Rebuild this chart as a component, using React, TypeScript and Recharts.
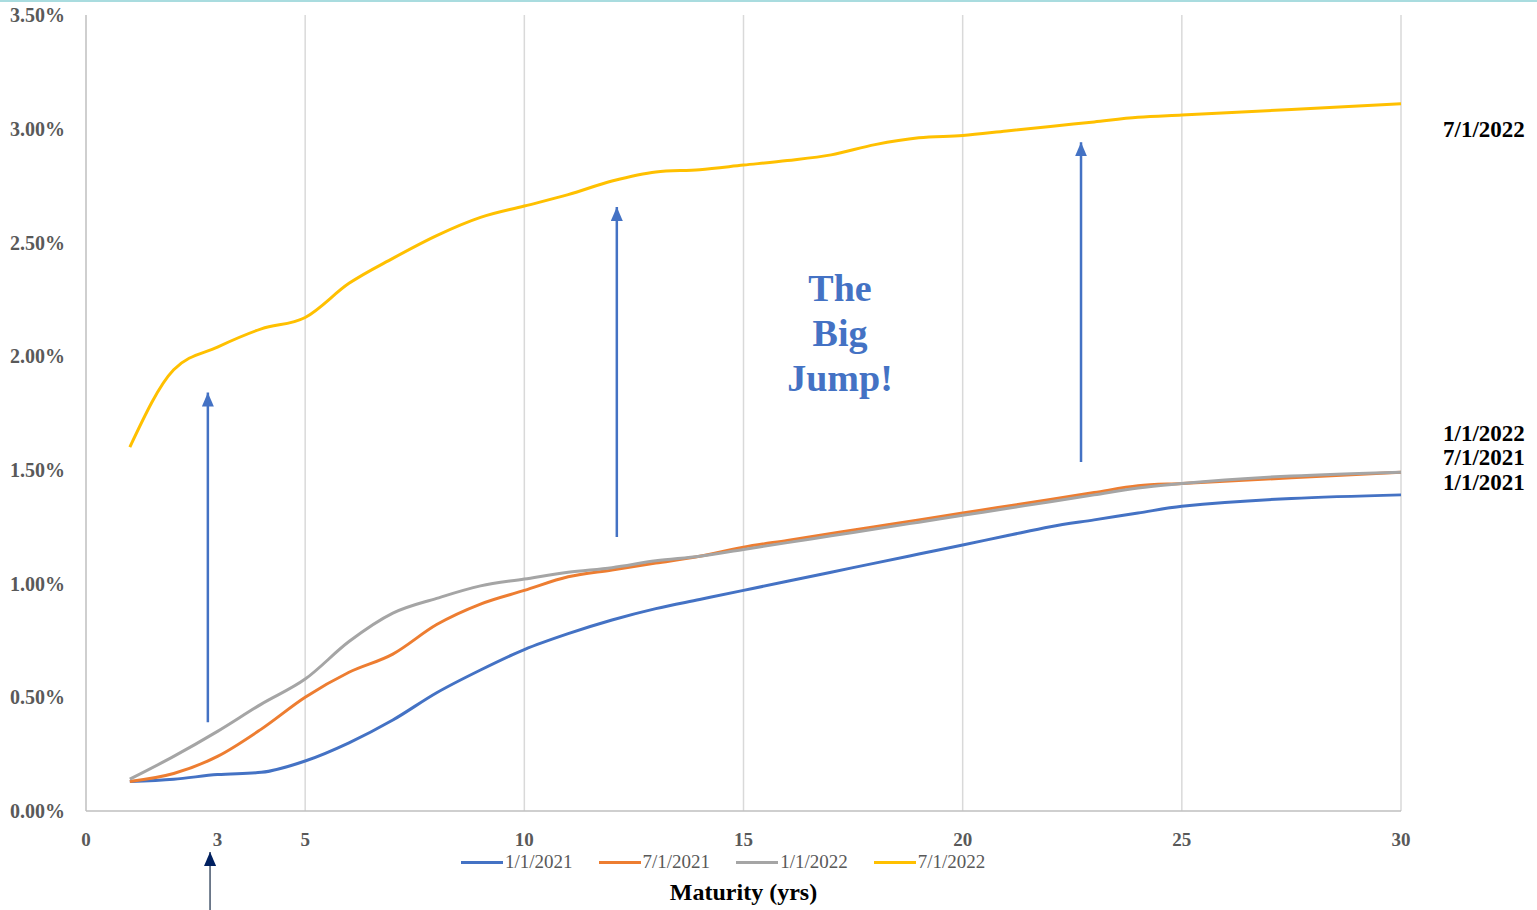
import React from "react"
import {
  LineChart,
  Line,
  XAxis,
  YAxis,
  Legend,
  ReferenceLine,
} from "recharts"

const maturities = [1, 2, 3, 4, 5, 6, 7, 8, 9, 10, 11, 12, 13, 14, 15, 16, 17, 18, 19, 20, 21, 22, 23, 24, 25, 30]

const jan2021 = [0.13, 0.14, 0.16, 0.17, 0.22, 0.3, 0.4, 0.52, 0.62, 0.71, 0.78, 0.84, 0.89, 0.93, 0.97, 1.01, 1.05, 1.09, 1.13, 1.17, 1.21, 1.25, 1.28, 1.31, 1.34, 1.39]
const jul2021 = [0.13, 0.165, 0.24, 0.36, 0.5, 0.61, 0.69, 0.82, 0.91, 0.97, 1.03, 1.06, 1.09, 1.12, 1.16, 1.19, 1.22, 1.25, 1.28, 1.31, 1.34, 1.37, 1.4, 1.43, 1.44, 1.49]
const jan2022 = [0.14, 0.24, 0.35, 0.47, 0.58, 0.745, 0.87, 0.935, 0.99, 1.02, 1.05, 1.07, 1.1, 1.12, 1.15, 1.18, 1.21, 1.24, 1.27, 1.3, 1.33, 1.36, 1.39, 1.42, 1.44, 1.49]
const jul2022 = [1.6, 1.94, 2.04, 2.12, 2.17, 2.32, 2.43, 2.53, 2.61, 2.66, 2.71, 2.77, 2.81, 2.82, 2.84, 2.86, 2.885, 2.93, 2.96, 2.97, 2.99, 3.01, 3.03, 3.05, 3.06, 3.11]

const xTicks = [0, 3, 5, 10, 15, 20, 25, 30]
const yTicks = [0, 0.5, 1, 1.5, 2, 2.5, 3, 3.5]
const gridYears = [5, 10, 15, 20, 25, 30]

const series = [
  { key: "jan2021", name: "1/1/2021", color: "#4472C4" },
  { key: "jul2021", name: "7/1/2021", color: "#ED7D31" },
  { key: "jan2022", name: "1/1/2022", color: "#A5A5A5" },
  { key: "jul2022", name: "7/1/2022", color: "#FFC000" },
]

// up arrows: [x (years), from y, to y]
const jumpArrows = [
  [2.78, 0.39, 1.84],
  [12.11, 1.205, 2.656],
  [22.7, 1.535, 2.94],
]

const data = maturities.map((m, i) => ({
  maturity: m,
  jan2021: jan2021[i],
  jul2021: jul2021[i],
  jan2022: jan2022[i],
  jul2022: jul2022[i],
}))

const serif = "'Liberation Serif', 'Times New Roman', serif"

function LegendContent() {
  return (
    <div style={{ display: "flex", alignItems: "center", fontFamily: serif, fontSize: 19, color: "#595959" }}>
      {series.map((s) => (
        <div key={s.key} style={{ display: "flex", alignItems: "center", marginRight: 26 }}>
          <span style={{ display: "inline-block", width: 42, height: 3, background: s.color, marginRight: 2 }} />
          <span>{s.name}</span>
        </div>
      ))}
    </div>
  )
}

export default function App() {
  const rightLabel = { position: "absolute" as const, left: 1443, fontFamily: serif, fontWeight: 700, fontSize: 23, color: "#000", lineHeight: "24px" }
  return (
    <div style={{ position: "absolute", left: 0, top: 0, width: 1537, height: 910, background: "#fff", fontFamily: serif }}>
      <div style={{ position: "absolute", left: 0, top: 0, width: 1537, height: 2, background: "#a9dcdf" }} />
      <LineChart width={1537} height={910} data={data} margin={{ top: 15, right: 136, left: 0, bottom: 0 }}>
        <defs>
          <marker id="arrowBlue" viewBox="0 0 14 12" refX="14" refY="6" markerWidth="14" markerHeight="12" markerUnits="userSpaceOnUse" orient="auto">
            <path d="M0,0 L14,6 L0,12 Z" fill="#4472C4" />
          </marker>
          <marker id="arrowNavy" viewBox="0 0 14 12" refX="14" refY="6" markerWidth="14" markerHeight="12" markerUnits="userSpaceOnUse" orient="auto">
            <path d="M0,0 L14,6 L0,12 Z" fill="#002060" />
          </marker>
        </defs>
        {gridYears.map((g) => (
          <ReferenceLine key={g} x={g} stroke="#d9d9d9" strokeWidth={1.5} />
        ))}
        <XAxis
          dataKey="maturity"
          type="number"
          domain={[0, 30]}
          ticks={xTicks}
          height={99}
          tickLine={false}
          tickSize={0}
          tickMargin={22}
          stroke="#bfbfbf"
          strokeWidth={1.5}
          tick={{ fill: "#595959", fontSize: 19, fontWeight: 700, fontFamily: serif }}
          label={{ value: "Maturity (yrs)", position: "insideBottom", offset: 10, fill: "#000", fontSize: 24, fontWeight: 700, fontFamily: serif }}
        />
        <YAxis
          type="number"
          domain={[0, 3.5]}
          ticks={yTicks}
          width={86}
          tickLine={false}
          tickSize={0}
          tickMargin={21}
          stroke="#bfbfbf"
          strokeWidth={1.5}
          tickFormatter={(v: number) => `${v.toFixed(2)}%`}
          tick={{ fill: "#595959", fontSize: 20, fontWeight: 700, fontFamily: serif }}
        />
        {series.map((s) => (
          <Line
            key={s.key}
            dataKey={s.key}
            name={s.name}
            type="monotone"
            stroke={s.color}
            strokeWidth={3}
            dot={false}
            activeDot={false}
            isAnimationActive={false}
          />
        ))}
        {jumpArrows.map(([x, y1, y2], i) => (
          <ReferenceLine
            key={i}
            segment={[{ x, y: y1 }, { x, y: y2 }]}
            stroke="#4472C4"
            strokeWidth={2.5}
            markerEnd="url(#arrowBlue)"
            ifOverflow="visible"
          />
        ))}
        <ReferenceLine
          segment={[{ x: 2.83, y: -0.44 }, { x: 2.83, y: -0.18 }]}
          stroke="#44546A"
          strokeWidth={1.5}
          markerEnd="url(#arrowNavy)"
          ifOverflow="visible"
        />
        <Legend
          layout="horizontal"
          verticalAlign="middle"
          align="center"
          content={LegendContent}
          wrapperStyle={{ top: 851, left: 461, width: 620, height: 22 }}
        />
      </LineChart>
      <div style={{ position: "absolute", left: 740, top: 266, width: 200, textAlign: "center", color: "#4472C4", fontWeight: 700, fontSize: 38, lineHeight: "45px", fontFamily: serif }}>
        The<br />Big<br />Jump!
      </div>
      <div style={{ ...rightLabel, top: 118 }}>7/1/2022</div>
      <div style={{ ...rightLabel, top: 422 }}>1/1/2022</div>
      <div style={{ ...rightLabel, top: 446 }}>7/1/2021</div>
      <div style={{ ...rightLabel, top: 471 }}>1/1/2021</div>
    </div>
  )
}
